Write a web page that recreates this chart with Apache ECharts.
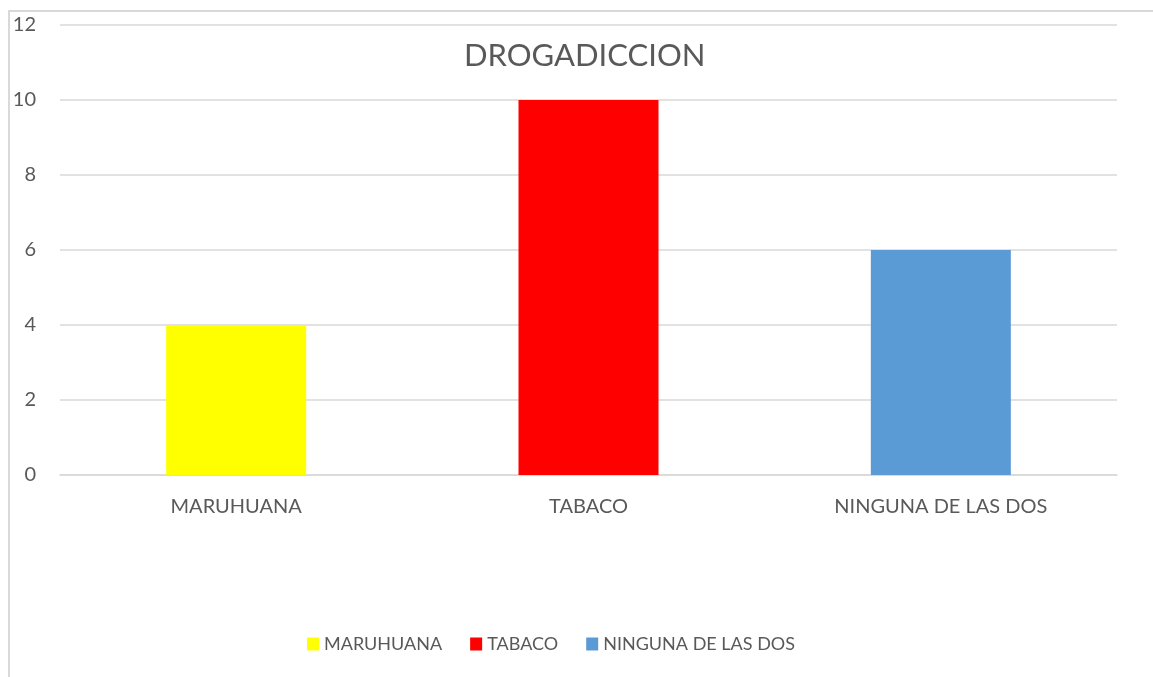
<!DOCTYPE html>
<html>
<head>
<meta charset="utf-8">
<title>DROGADICCION</title>
<script src="https://cdn.jsdelivr.net/npm/echarts@6/dist/echarts.min.js"></script>
<style>
  html, body { margin: 0; padding: 0; background: #fff; }
  #frame {
    position: absolute; left: 8px; top: 10px; width: 1145px; height: 667px;
    border-left: 2px solid #d9d9d9; border-top: 2px solid #d9d9d9;
  }
  #chart { position: absolute; left: 0; top: 0; width: 1153px; height: 677px; }
</style>
</head>
<body>
<div id="frame"></div>
<div id="chart"></div>
<script>
// categories and values
const categories = ["MARUHUANA", "TABACO", "NINGUNA DE LAS DOS"];
const values = [4, 10, 6];
const colors = ["#ffff00", "#ff0000", "#5b9bd5"];
const yTicks = [0, 2, 4, 6, 8, 10, 12];

const font = "Lato, 'Noto Sans', sans-serif";
const textColor = "#595959";

// one series per category so each gets its own legend entry
const series = categories.map((name, i) => ({
    name: name,
    type: "bar",
    stack: "all",
    barWidth: 140,
    itemStyle: { color: colors[i] },
    data: categories.map((c, j) => (j === i ? values[i] : "-")),
}));

const chart = echarts.init(document.getElementById("chart"));
chart.setOption({
    animation: false,
    title: {
        text: "DROGADICCION",
        left: 459,
        top: 35,
        textStyle: { fontFamily: font, fontSize: 31, fontWeight: "normal", color: textColor },
    },
    legend: {
        bottom: 19,
        left: 302,
        itemWidth: 12,
        itemHeight: 13,
        itemGap: 28,
        icon: "rect",
        textStyle: { fontFamily: font, fontSize: 18, color: textColor },
        data: categories,
    },
    grid: { left: 60, right: 36, top: 25, bottom: 202 },
    xAxis: {
        type: "category",
        data: categories,
        axisLine: { lineStyle: { color: "#d9d9d9", width: 1.5 } },
        axisTick: { show: false },
        axisLabel: { fontFamily: font, fontSize: 20, color: textColor, margin: 22 },
    },
    yAxis: {
        type: "value",
        min: yTicks[0],
        max: yTicks[yTicks.length - 1],
        interval: 2,
        axisLine: { show: false },
        axisTick: { show: false },
        splitLine: { lineStyle: { color: "#d9d9d9", width: 1.5 } },
        axisLabel: { fontFamily: font, fontSize: 20, color: textColor, margin: 24 },
    },
    series: series,
});
</script>
</body>
</html>
